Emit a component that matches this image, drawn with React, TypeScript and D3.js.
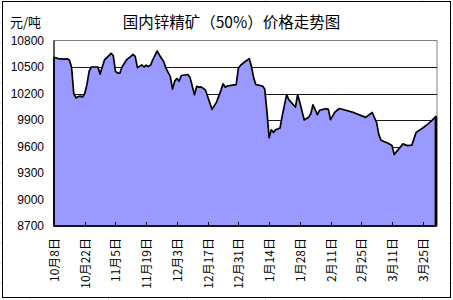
import React from "react";
import * as d3 from "d3";

const title = "国内锌精矿（50%）价格走势图";
const unitLabel = "元/吨";

const dates = [
  "2008-10-08","2008-10-10","2008-10-12","2008-10-14","2008-10-15","2008-10-16","2008-10-17","2008-10-18",
  "2008-10-19","2008-10-20","2008-10-21","2008-10-22","2008-10-23","2008-10-24","2008-10-25","2008-10-28",
  "2008-10-29","2008-10-30","2008-10-31","2008-11-02","2008-11-03","2008-11-04","2008-11-05","2008-11-06",
  "2008-11-07","2008-11-08","2008-11-10","2008-11-12","2008-11-13","2008-11-14","2008-11-15","2008-11-17",
  "2008-11-18","2008-11-19","2008-11-20","2008-11-21","2008-11-22","2008-11-24","2008-11-25","2008-11-27",
  "2008-11-28","2008-11-30","2008-12-01","2008-12-02","2008-12-03","2008-12-04","2008-12-05","2008-12-08",
  "2008-12-09","2008-12-11","2008-12-12","2008-12-13","2008-12-14","2008-12-16","2008-12-19","2008-12-21",
  "2008-12-23","2008-12-24","2008-12-25","2008-12-26","2008-12-29","2008-12-30","2008-12-31","2009-01-01",
  "2009-01-03","2009-01-05","2009-01-06","2009-01-07","2009-01-08","2009-01-11","2009-01-12","2009-01-13",
  "2009-01-14","2009-01-15","2009-01-16","2009-01-17","2009-01-19","2009-01-20","2009-01-22","2009-01-23",
  "2009-01-26","2009-01-27","2009-01-28","2009-01-30","2009-02-01","2009-02-02","2009-02-03","2009-02-05",
  "2009-02-06","2009-02-09","2009-02-10","2009-02-11","2009-02-13","2009-02-15","2009-02-18","2009-02-22",
  "2009-02-27","2009-03-02","2009-03-04","2009-03-05","2009-03-06","2009-03-09","2009-03-11","2009-03-12",
  "2009-03-14","2009-03-16","2009-03-18","2009-03-20","2009-03-22","2009-03-25","2009-03-27","2009-03-29",
  "2009-03-31",
];

const prices = [
  10610,10595,10590,10592,10580,10500,10200,10150,
  10165,10170,10160,10200,10300,10450,10500,10500,
  10420,10500,10580,10629,10655,10630,10450,10430,
  10430,10500,10580,10620,10644,10620,10493,10524,
  10500,10520,10505,10522,10580,10682,10636,10560,
  10487,10392,10250,10340,10370,10340,10404,10415,
  10380,10186,10280,10272,10275,10240,10020,10100,
  10230,10310,10270,10285,10298,10300,10487,10520,
  10560,10595,10500,10374,10300,10285,10250,10000,
  9700,9790,9760,9790,9810,9950,10186,10130,
  10045,10186,10100,9900,9930,9970,10073,9960,
  10010,10028,10020,9904,9990,10030,10010,9980,
  9930,9985,9870,9735,9670,9640,9611,9510,
  9570,9630,9610,9615,9760,9810,9848,9890,
  9940,
];

const yTicks = [8700, 9000, 9300, 9600, 9900, 10200, 10500, 10800];
const xTickDates = [
  "2008-10-08","2008-10-22","2008-11-05","2008-11-19","2008-12-03","2008-12-17","2008-12-31",
  "2009-01-14","2009-01-28","2009-02-11","2009-02-25","2009-03-11","2009-03-25",
];
const xTickLabels = [
  "10月8日","10月22日","11月5日","11月19日","12月3日","12月17日","12月31日",
  "1月14日","1月28日","2月11日","2月25日","3月11日","3月25日",
];
const domainStart = "2008-10-08";
const domainEnd = "2009-03-31T12:00:00Z";

const W = 453;
const H = 300;
const plot = { left: 54, right: 437, top: 40.5, bottom: 226 };
const FONT = "'Liberation Sans', Arial, 'Noto Sans CJK SC', sans-serif";
const CJK = "'Noto Sans CJK SC', 'Liberation Sans', sans-serif";

export default function App() {
  const parse = d3.utcParse("%Y-%m-%d");
  const data = dates.map((d, i) => ({ date: parse(d) as Date, value: prices[i] }));
  const x = d3
    .scaleUtc()
    .domain([parse(domainStart) as Date, new Date(domainEnd)])
    .range([plot.left, plot.right]);
  const y = d3.scaleLinear().domain([8700, 10800]).range([plot.bottom, plot.top]);

  const area = d3
    .area<{ date: Date; value: number }>()
    .x((d) => x(d.date))
    .y0(y(8700))
    .y1((d) => y(d.value));

  const last = data[data.length - 1];
  const bgV = d3.range(30, W, 78.5);
  const bgH = d3.range(3, H, 20);

  return (
    <svg
      width={W}
      height={H}
      style={{ position: "absolute", left: 0, top: 0, background: "#fff" }}
    >
      {bgV.map((v) => (
        <line key={"bv" + v} x1={v} x2={v} y1={0} y2={H} stroke="#dcdcdc" strokeWidth={1} />
      ))}
      {bgH.map((v) => (
        <line key={"bh" + v} x1={0} x2={W} y1={v} y2={v} stroke="#dcdcdc" strokeWidth={1} />
      ))}
      <rect x={2.5} y={1.5} width={448} height={296} fill="#fff" stroke="#000" strokeWidth={1} />

      <text x={10} y={21} fontFamily={CJK} fontSize={13} dominantBaseline="central" fill="#000">
        {unitLabel}
      </text>
      <text
        x={231.5}
        y={20.5}
        fontFamily={CJK}
        fontSize={15.5}
        textAnchor="middle"
        dominantBaseline="central"
        fill="#000"
      >
        {title}
      </text>

      <rect
        x={plot.left}
        y={plot.top}
        width={plot.right - plot.left}
        height={plot.bottom - plot.top}
        fill="#fff"
        stroke="#808080"
        strokeWidth={1}
      />
      {yTicks
        .filter((t) => t !== 8700 && t !== 10800)
        .map((t) => (
          <line
            key={"g" + t}
            x1={plot.left}
            x2={plot.right}
            y1={Math.round(y(t)) + 0.5}
            y2={Math.round(y(t)) + 0.5}
            stroke="#1a1a1a"
            strokeWidth={1}
          />
        ))}

      <path d={area(data) || ""} fill="#9999FF" stroke="#000" strokeWidth={1.7} strokeLinejoin="round" />
      <line
        x1={x(last.date)}
        x2={x(last.date)}
        y1={y(last.value)}
        y2={y(8700)}
        stroke="#000"
        strokeWidth={2.6}
      />

      <line x1={plot.left} x2={plot.left} y1={plot.top} y2={plot.bottom} stroke="#000" strokeWidth={1} />
      <line x1={plot.left} x2={plot.right} y1={plot.bottom} y2={plot.bottom} stroke="#000" strokeWidth={1} />

      {yTicks.map((t) => (
        <text
          key={"yl" + t}
          x={44}
          y={y(t)}
          fontFamily={FONT}
          fontSize={12}
          textAnchor="end"
          dominantBaseline="central"
          fill="#000"
        >
          {t}
        </text>
      ))}

      {xTickDates.map((d, i) => {
        const xp = Math.round(x(parse(d) as Date)) + 0.5;
        return (
          <g key={"xt" + d}>
            {i > 0 && (
              <line x1={xp} x2={xp} y1={plot.bottom} y2={plot.bottom - 4} stroke="#000" strokeWidth={1} />
            )}
            <text
              transform={`translate(${xp},238) rotate(-90)`}
              fontFamily={CJK}
              fontSize={12}
              textAnchor="end"
              dy="0.35em"
              fill="#000"
            >
              {xTickLabels[i]}
            </text>
          </g>
        );
      })}
    </svg>
  );
}
